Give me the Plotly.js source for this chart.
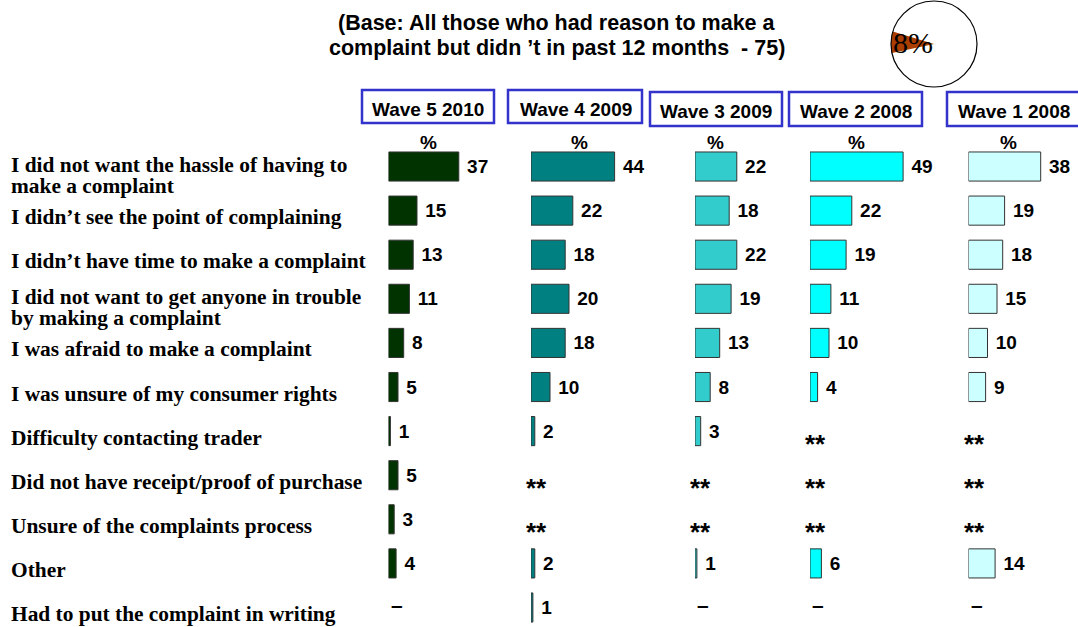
<!DOCTYPE html>
<html><head><meta charset="utf-8">
<script src="https://cdn.plot.ly/plotly-3.0.1.min.js"></script>
<style>html,body{margin:0;padding:0;background:#fff}#chart{width:1078px;height:627px}</style>
</head><body><div id="chart"></div>
<script>
const categories = [
  'I did not want the hassle of having to<br>make a complaint',
  'I didn’t see the point of complaining',
  'I didn’t have time to make a complaint',
  'I did not want to get anyone in trouble<br>by making a complaint',
  'I was afraid to make a complaint',
  'I was unsure of my consumer rights',
  'Difficulty contacting trader',
  'Did not have receipt/proof of purchase',
  'Unsure of the complaints process',
  'Other',
  'Had to put the complaint in writing'
];
const waveNames = ['Wave 5 2010', 'Wave 4 2009', 'Wave 3 2009', 'Wave 2 2008', 'Wave 1 2008'];
const wave5 = [37, 15, 13, 11, 8, 5, 1, 5, 3, 4, null];
const wave4 = [44, 22, 18, 20, 18, 10, 2, null, null, 2, 1];
const wave3 = [22, 18, 22, 19, 13, 8, 3, null, null, 1, null];
const wave2 = [49, 22, 19, 11, 10, 4, null, null, null, 6, null];
const wave1 = [38, 19, 18, 15, 10, 9, null, null, null, 14, null];
const wave5Notes = ['', '', '', '', '', '', '', '', '', '', '–'];
const wave4Notes = ['', '', '', '', '', '', '', '**', '**', '', ''];
const wave3Notes = ['', '', '', '', '', '', '', '**', '**', '', '–'];
const wave2Notes = ['', '', '', '', '', '', '**', '**', '**', '', '–'];
const wave1Notes = ['', '', '', '', '', '', '**', '**', '**', '', '–'];
const pieValues = [8, 92];
const pieLabel = '8%';
const percentLabel = '%';
const titleLines = ['(Base: All those who had reason to make a', 'complaint but didn ’t in past 12 months\u00a0 - 75)'];

const series = [wave5, wave4, wave3, wave2, wave1];
const notes = [wave5Notes, wave4Notes, wave3Notes, wave2Notes, wave1Notes];
const colors = ['#003300', '#008080', '#33CCCC', '#00FFFF', '#CCFFFF'];

const W = 1078, H = 627;
const px = x => x / W, py = y => 1 - y / H;
const barStart = [388.5, 531, 695, 810, 968.5];
const PXU = 1.9, RANGE = 55;
const boxes = [[362, 90, 494, 123], [508, 90, 642, 123], [650, 92, 782, 126], [789, 92, 922, 126], [947, 92, 1084, 126]];
const headCenters = [[428, 109], [576, 109], [716, 111], [856, 111], [1014, 111]];
const pctX = [428, 579, 715, 856, 1008];

const SANS = 'Liberation Sans, Arial, sans-serif';
const SERIF = 'Liberation Serif, Times New Roman, serif';

const traces = [];
const layout = {
  width: W, height: H, margin: {l: 0, r: 0, t: 0, b: 0},
  paper_bgcolor: '#fff', plot_bgcolor: 'rgba(0,0,0,0)', showlegend: false,
  yaxis: {type: 'category', categoryorder: 'array', categoryarray: categories,
    range: [10.442, -3.776], domain: [0, 1], showticklabels: false, showgrid: false,
    zeroline: false, ticks: '', showline: false, fixedrange: true},
  shapes: [], annotations: []
};

series.forEach((vals, i) => {
  const ax = i === 0 ? 'x' : 'x' + (i + 1);
  const axKey = i === 0 ? 'xaxis' : 'xaxis' + (i + 1);
  layout[axKey] = {
    domain: [px(barStart[i]), px(barStart[i] + RANGE * PXU)], range: [0, RANGE],
    anchor: 'y', showticklabels: false, showgrid: false, zeroline: false,
    ticks: '', showline: false, fixedrange: true
  };
  traces.push({
    type: 'bar', orientation: 'h', x: vals, y: categories, xaxis: ax, yaxis: 'y',
    width: 0.66,
    marker: {color: colors[i], line: {color: '#333333', width: 1}},
    text: vals.map(v => v == null ? '' : '\u00a0' + v),
    textposition: 'outside', cliponaxis: false, constraintext: 'none',
    textfont: {family: SANS, size: 19, color: '#000', weight: 'bold'},
    hoverinfo: 'skip'
  });
  notes[i].forEach((n, r) => {
    if (!n) return;
    const star = n === '**';
    layout.annotations.push({
      xref: ax, yref: 'y', x: 0, y: r, xanchor: 'left', yanchor: 'middle',
      xshift: star ? -7 : 0, yshift: star ? -12.5 : 3,
      text: n, showarrow: false,
      font: {family: SANS, size: star ? 26 : 21, color: '#000', weight: 'bold'}
    });
  });
  const b = boxes[i];
  layout.shapes.push({type: 'rect', xref: 'paper', yref: 'paper',
    x0: px(b[0]), x1: px(b[2]), y0: py(b[3]), y1: py(b[1]),
    line: {color: '#3333CC', width: 2.5}, fillcolor: '#fff'});
  layout.annotations.push({xref: 'paper', yref: 'paper', x: px(headCenters[i][0]), y: py(headCenters[i][1]),
    xanchor: 'center', yanchor: 'middle', text: waveNames[i], showarrow: false,
    font: {family: SANS, size: 19, color: '#000', weight: 'bold'}});
  layout.annotations.push({xref: 'paper', yref: 'paper', x: px(pctX[i]), y: py(142),
    xanchor: 'center', yanchor: 'middle', text: percentLabel, showarrow: false,
    font: {family: SANS, size: 19, color: '#000', weight: 'bold'}});
});

// row labels
categories.forEach((c, r) => {
  const lines = c.split('<br>');
  lines.forEach((ln, k) => {
    const off = ((lines.length - 1) / 2 - k) * 21;
    layout.annotations.push({xref: 'paper', yref: 'y', x: px(9), y: r, xanchor: 'left', yanchor: 'middle',
      yshift: -6.5 + off - (lines.length > 1 ? 2 : 0), text: ln, showarrow: false,
      font: {family: SERIF, size: 21.4, color: '#000', weight: 'bold'}});
  });
});

// title
titleLines.forEach((t, k) => {
  layout.annotations.push({xref: 'paper', yref: 'paper', x: px(557), y: py(23 + k * 25),
    xanchor: 'center', yanchor: 'middle', text: t, showarrow: false,
    font: {family: SANS, size: 21.5, color: '#000', weight: 'bold'}});
});

// pie
traces.push({type: 'pie', values: pieValues, sort: false, direction: 'clockwise', rotation: 258,
  domain: {x: [px(891), px(977)], y: [py(87), py(1)]},
  marker: {colors: ['#AA3D00', 'rgba(255,255,255,0)'], line: {width: 0}},
  textinfo: 'none', hoverinfo: 'skip', showlegend: false});
layout.shapes.push({type: 'circle', xref: 'paper', yref: 'paper', layer: 'above',
  x0: px(891), x1: px(977), y0: py(87), y1: py(1), line: {color: '#000', width: 1.2}});
layout.annotations.push({xref: 'paper', yref: 'paper', x: px(913), y: py(43), xanchor: 'center', yanchor: 'middle',
  text: pieLabel, showarrow: false, font: {family: SERIF, size: 30, color: '#000'}});

Plotly.newPlot('chart', traces, layout, {staticPlot: true, displayModeBar: false});
</script></body></html>
